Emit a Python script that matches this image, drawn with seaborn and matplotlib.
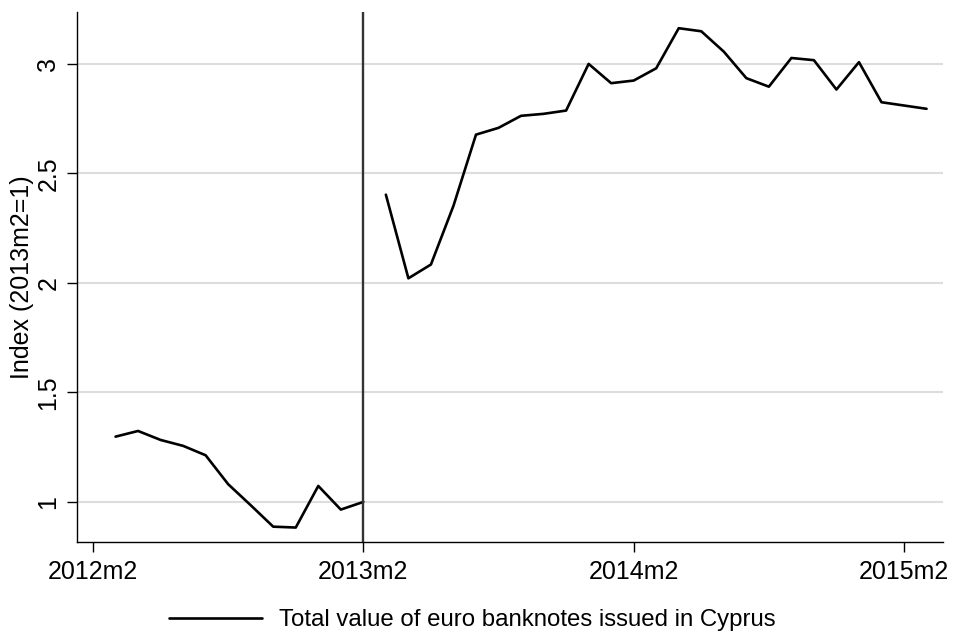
import numpy as np
import pandas as pd
import matplotlib
matplotlib.use("Agg")
import matplotlib.pyplot as plt
import seaborn as sns
from matplotlib.lines import Line2D

# ---- data ----
months_pre = ["2012m3", "2012m4", "2012m5", "2012m6", "2012m7", "2012m8",
              "2012m9", "2012m10", "2012m11", "2012m12", "2013m1", "2013m2"]
values_pre = [1.298, 1.324, 1.283, 1.256, 1.213, 1.081,
              0.985, 0.887, 0.883, 1.073, 0.965, 1.000]
months_post = ["2013m3", "2013m4", "2013m5", "2013m6", "2013m7", "2013m8",
               "2013m9", "2013m10", "2013m11", "2013m12", "2014m1", "2014m2",
               "2014m3", "2014m4", "2014m5", "2014m6", "2014m7", "2014m8",
               "2014m9", "2014m10", "2014m11", "2014m12", "2015m1", "2015m2",
               "2015m3"]
values_post = [2.403, 2.021, 2.084, 2.352, 2.677, 2.708, 2.763, 2.772, 2.787,
               3.000, 2.912, 2.924, 2.980, 3.163, 3.149, 3.056, 2.935, 2.896,
               3.027, 3.017, 2.883, 3.008, 2.825, 2.810, 2.795]
tick_labels = ["2012m2", "2013m2", "2014m2", "2015m2"]
yticks = [1, 1.5, 2, 2.5, 3]
event_month = "2013m2"
series_label = "Total value of euro banknotes issued in Cyprus"
ylabel = "Index (2013m2=1)"


def month_index(s):
    y, m = s.split("m")
    return (int(y) - 2012) * 12 + int(m) - 2


df = pd.DataFrame({
    "t": [month_index(m) for m in months_pre + months_post],
    "value": values_pre + values_post,
    "segment": ["pre"] * len(months_pre) + ["post"] * len(months_post),
})

sns.set_theme(style="white")
plt.rcParams["font.family"] = ["Liberation Sans", "DejaVu Sans"]

FS = 18
fig = plt.figure(figsize=(9.54, 6.35), dpi=100)
ax = fig.add_axes([77 / 954, 1 - 542 / 635, (943 - 77) / 954, (542 - 12) / 635])

sns.lineplot(data=df, x="t", y="value", units="segment", estimator=None,
             color="black", linewidth=1.9, ax=ax, legend=False)

ax.axvline(month_index(event_month), color="#333333", linewidth=1.7, zorder=3)

ax.set_xlim(-0.71, 37.73)
ax.set_ylim(0.817, 3.237)
ax.set_xticks([month_index(s) for s in tick_labels])
ax.set_xticklabels(tick_labels)
ax.set_yticks(yticks)
ax.set_yticklabels([f"{v:g}" for v in yticks], rotation=90, va="center")
ax.grid(axis="y", color="#dddddd", linewidth=1.5)
ax.grid(axis="x", visible=False)
ax.set_axisbelow(True)
for sp in ["top", "right"]:
    ax.spines[sp].set_visible(False)
for sp in ["left", "bottom"]:
    ax.spines[sp].set_color("black")
    ax.spines[sp].set_linewidth(1.0)
ax.tick_params(axis="both", direction="out", length=7, width=1.0,
               color="black", labelsize=FS, labelcolor="black",
               left=True, bottom=True)
ax.tick_params(axis="x", pad=6)
ax.tick_params(axis="y", pad=5)
ax.set_xlabel("")
ax.set_ylabel(ylabel, fontsize=FS, color="black", labelpad=2)

handle = Line2D([0], [0], color="black", linewidth=1.9)
fig.legend([handle], [series_label], loc="center",
           bbox_to_anchor=(0.495, 1 - 620 / 635), frameon=False,
           fontsize=17.3, handlelength=3.85, handletextpad=0.7,
           labelcolor="black")

fig.savefig("out.png", dpi=100)
